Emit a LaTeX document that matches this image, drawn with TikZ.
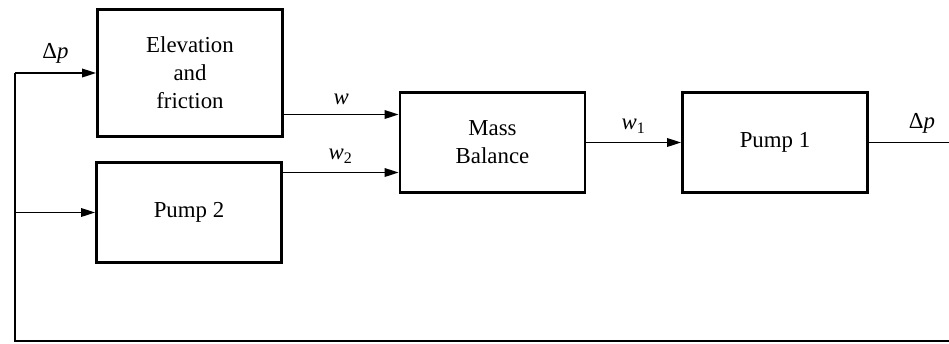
\documentclass[tikz,border=0pt]{standalone}
\usepackage{fontspec}
\setmainfont{Liberation Serif}
\usetikzlibrary{arrows.meta}

\tikzset{
  block/.style={draw, line width=1.6pt, minimum width=3.7cm, minimum height=2cm,
    align=center, font=\fontsize{13}{16}\selectfont},
  signal/.style={line width=1.1pt, -{Triangle[length=2.8mm,width=1.7mm]}},
  wire/.style={line width=1.1pt},
  lbl/.style={font=\fontsize{13}{16}\selectfont, above, yshift=1.5pt}
}

\begin{document}
\begin{tikzpicture}
  \clip (0,0) rectangle (18.98,6.86);
  % blocks
  \node[block, minimum height=2.54cm] (elev) at (3.80,5.40) {Elevation\\and\\friction};
  \node[block] (pumptwo) at (3.78,2.61) {Pump 2};
  \node[block] (mass) at (9.85,4.01) {Mass\\Balance};
  \node[block] (pumpone) at (15.50,4.01) {Pump 1};
  % inputs of mass balance
  \coordinate (win) at ([yshift=0.56cm]mass.west);
  \coordinate (wtwoin) at ([yshift=-0.6cm]mass.west);
  \draw[signal] (elev.east |- win) -- node[lbl] {\textit{w}} (win);
  \draw[signal] (pumptwo.east |- wtwoin) -- node[lbl] {\textit{w}\textsubscript{2}} (wtwoin);
  \draw[signal] (mass.east) -- node[lbl] {\textit{w}\textsubscript{1}} (pumpone.west);
  % feedback of the pressure rise
  \coordinate (fbright) at (19.5,4.01);
  \coordinate (fbleft) at (0.30,0.04);
  \draw[wire] (pumpone.east) -- node[lbl] {Δ\textit{p}} (fbright) |- (fbleft) -- (fbleft |- elev.west);
  \draw[signal] (fbleft |- elev.west) -- node[lbl] {Δ\textit{p}} (elev.west);
  \draw[signal] (fbleft |- pumptwo.west) -- (pumptwo.west);
\end{tikzpicture}
\end{document}
